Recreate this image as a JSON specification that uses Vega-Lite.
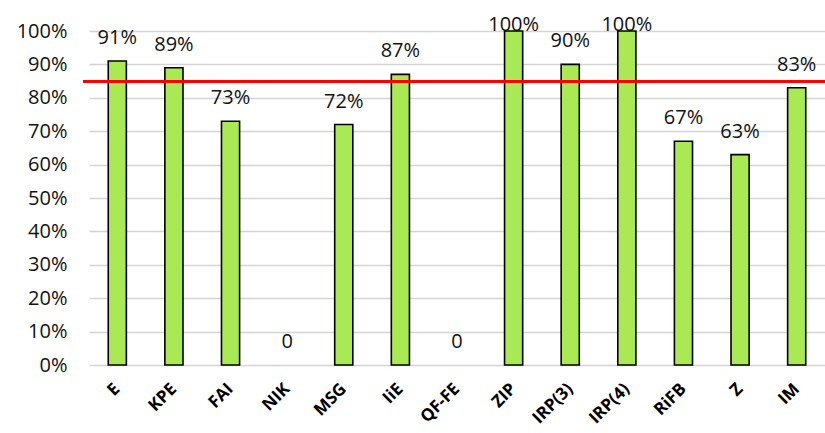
{
  "$schema": "https://vega.github.io/schema/vega-lite/v6.json",
  "autosize": {"type": "none"},
  "padding": {"left": 89, "top": 31, "right": 0, "bottom": 68},
  "width": 736,
  "height": 334,
  "background": "white",
  "config": {
    "font": "Open Sans",
    "view": {"stroke": null}
  },
  "data": {
    "values": [
      {"cat": "E", "value": 91, "label": "91%"},
      {"cat": "KPE", "value": 89, "label": "89%"},
      {"cat": "FAI", "value": 73, "label": "73%"},
      {"cat": "NIK", "value": 0, "label": "0"},
      {"cat": "MSG", "value": 72, "label": "72%"},
      {"cat": "IiE", "value": 87, "label": "87%"},
      {"cat": "QF-FE", "value": 0, "label": "0"},
      {"cat": "ZIP", "value": 100, "label": "100%"},
      {"cat": "IRP(3)", "value": 90, "label": "90%"},
      {"cat": "IRP(4)", "value": 100, "label": "100%"},
      {"cat": "RiFB", "value": 67, "label": "67%"},
      {"cat": "Z", "value": 63, "label": "63%"},
      {"cat": "IM", "value": 83, "label": "83%"}
    ]
  },
  "encoding": {
    "x": {
      "field": "cat",
      "type": "nominal",
      "sort": null,
      "scale": {"paddingInner": 0.68, "paddingOuter": 0.34},
      "axis": {
        "title": null,
        "ticks": false,
        "domain": false,
        "labelAngle": -45,
        "labelAlign": "right",
        "labelBaseline": "middle",
        "labelFontWeight": "bold",
        "labelFontSize": 17,
        "labelColor": "#000000",
        "labelPadding": 21,
        "labelOverlap": false,
        "labelFont": "Open Sans"
      }
    },
    "y": {
      "field": "value",
      "type": "quantitative",
      "scale": {"domain": [0, 100], "nice": false},
      "axis": {
        "title": null,
        "values": [0, 10, 20, 30, 40, 50, 60, 70, 80, 90, 100],
        "labelExpr": "datum.value + '%'",
        "ticks": false,
        "domain": false,
        "grid": true,
        "gridColor": "#d4d4d4",
        "gridWidth": 1.4,
        "labelFontSize": 20,
        "labelColor": "#111111",
        "labelPadding": 22,
        "labelFont": "Open Sans"
      }
    }
  },
  "layer": [
    {
      "mark": {"type": "bar", "fill": "#a9e954", "stroke": "#000000"},
      "encoding": {
        "strokeWidth": {"condition": {"test": "datum.value == 0", "value": 0}, "value": 1.6}
      }
    },
    {
      "mark": {"type": "rule", "color": "#ff0000", "strokeWidth": 2.3},
      "encoding": {"y": {"datum": 85}, "x": {"value": -6}, "x2": {"value": 736}}
    },
    {
      "mark": {
        "type": "text",
        "fontSize": 20,
        "color": "#111111",
        "baseline": "alphabetic",
        "align": "center",
        "dy": {"expr": "datum.value >= 100 ? 0 : -17"}
      },
      "encoding": {"text": {"field": "label"}}
    }
  ]
}
